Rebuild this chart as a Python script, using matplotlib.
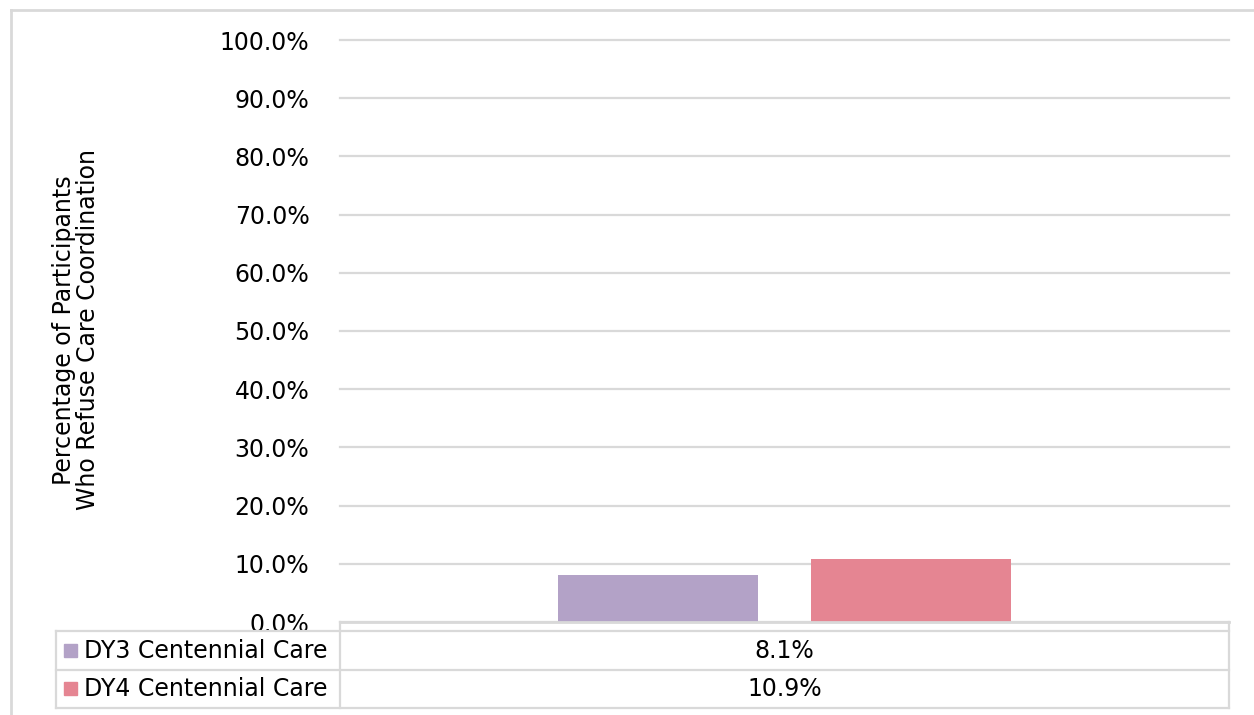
import numpy as np
import matplotlib.pyplot as plt
from matplotlib.lines import Line2D

plt.rcParams['font.family'] = 'DejaVu Sans'

series = ['DY3 Centennial Care', 'DY4 Centennial Care']
values = [8.1, 10.9]
colors = ['#B3A2C7', '#E58592']
yticks = np.arange(0, 101, 10)

W, H = 1254, 715
fig = plt.figure(figsize=(W / 100, H / 100), dpi=100)


def px(x, y):
    # pixel position (from top-left) -> figure fraction
    return x / W, 1 - y / H


grid_c = '#D9D9D9'

# plot area
left, right, top, bottom = 340, 1229, 40, 622
x0, y0 = px(left, bottom)
ax = fig.add_axes([x0, y0, (right - left) / W, (bottom - top) / H])
offsets = [-0.1423, 0.1423]
for i in range(len(series)):
    ax.bar(offsets[i], values[i], width=0.225, color=colors[i], zorder=3)
ax.set_xlim(-0.5, 0.5)
ax.set_ylim(0, 100)
ax.set_yticks(yticks)
ax.set_yticklabels(['%.1f%%' % v for v in yticks], fontsize=17)
ax.tick_params(axis='y', length=0, pad=22)
ax.set_xticks([])
ax.grid(axis='y', color=grid_c, linewidth=1.6, zorder=0)
for gl in ax.get_ygridlines():
    gl.set_clip_on(False)
for s in ax.spines.values():
    s.set_visible(False)
ax.axhline(0, color=grid_c, linewidth=2, zorder=4, clip_on=False)

fig.text(*px(76, 330), 'Percentage of Participants\nWho Refuse Care Coordination',
         rotation=90, ha='center', va='center', fontsize=17, linespacing=1.0)


def line(xs, ys, lw=1.6, c=grid_c):
    fx = [x / W for x in xs]
    fy = [1 - y / H for y in ys]
    fig.add_artist(Line2D(fx, fy, color=c, linewidth=lw))


# outer chart frame
line([11, 11], [10, 715], lw=2)
line([11, 1254], [10, 10], lw=2)

# data table
t_top, t_mid, t_bot = 631, 670, 708
t_left = 56
line([t_left, right], [t_top, t_top])
line([t_left, right], [t_mid, t_mid])
line([t_left, right], [t_bot, t_bot])
line([t_left, t_left], [t_top, t_bot])
line([left, left], [bottom, t_bot])
line([right, right], [bottom, t_bot])

rows_y = [(t_top + t_mid) / 2, (t_mid + t_bot) / 2]
for i in range(len(series)):
    yc = rows_y[i]
    fig.patches.append(plt.Rectangle(px(64, yc + 6), 13 / W, 13 / H,
                                     transform=fig.transFigure,
                                     color=colors[i]))
    fig.text(*px(84, yc), series[i], ha='left', va='center', fontsize=17)
    fig.text(*px((left + right) / 2, yc), '%.1f%%' % values[i],
             ha='center', va='center', fontsize=17)

plt.savefig('out.png', dpi=100)
